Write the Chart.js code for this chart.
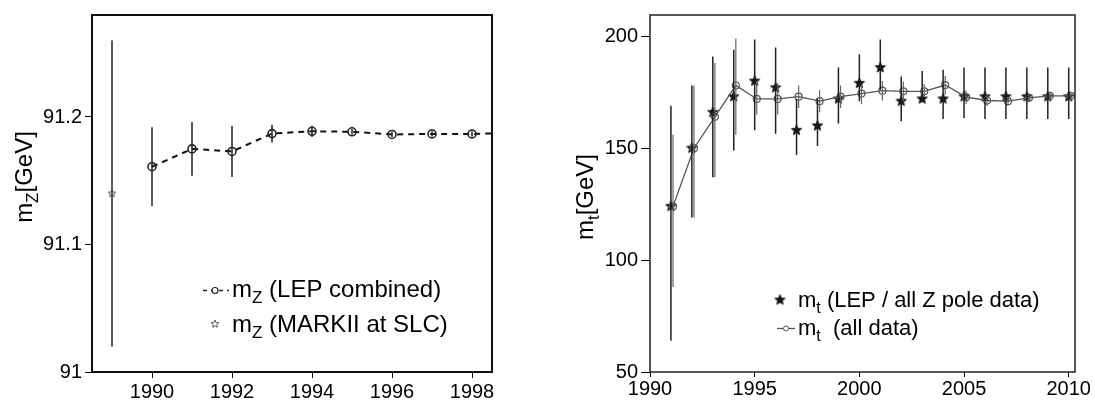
<!DOCTYPE html>
<html>
<head>
<meta charset="utf-8">
<script src="https://cdn.jsdelivr.net/npm/chart.js@4.4.1/dist/chart.umd.min.js"></script>
<style>
  html, body { margin: 0; padding: 0; background: #fff; }
  #wrap { position: relative; width: 1095px; height: 403px; background: #fff; overflow: hidden; }
  canvas { position: absolute; top: 0; background: #fff; }
  #c1 { left: 0; }
  #c2 { left: 545px; }
</style>
</head>
<body>
<div id="wrap">
  <canvas id="c1" width="545" height="403"></canvas>
  <canvas id="c2" width="550" height="403"></canvas>
</div>
<script>
// ---------------- Left panel data: Z mass ----------------
const lepYears = [1990, 1991, 1992, 1993, 1994, 1995, 1996, 1997, 1998, 1999];
const lepMass  = [91.161, 91.175, 91.173, 91.187, 91.1888, 91.1884, 91.1863, 91.1867, 91.1867, 91.1875];
const lepErr   = [0.031, 0.021, 0.020, 0.007, 0.0044, 0.0022, 0.0020, 0.0021, 0.0021, 0.0021];
const markYears = [1989];
const markMass  = [91.14];
const markErr   = [0.12];
const leftXTicks = [1990, 1992, 1994, 1996, 1998];
const leftYTicks = [91, 91.1, 91.2];
const leftYTickLabels = ['91', '91.1', '91.2'];

// ---------------- Right panel data: top mass ----------------
const topYears = [1991, 1992, 1993, 1994, 1995, 1996, 1997, 1998, 1999, 2000,
                  2001, 2002, 2003, 2004, 2005, 2006, 2007, 2008, 2009, 2010];
const zpoleMass = [124, 150, 166, 173, 180, 177, 158, 160, 172, 179,
                   186, 171, 172, 172, 173, 173, 173, 173, 173, 173];
const zpoleUp   = [45, 28, 25, 21, 18.5, 18, 14, 12, 14, 13,
                   12.5, 11, 12.5, 13, 13, 13, 13, 13, 13, 13];
const zpoleDown = [60, 31, 29, 24, 22, 20.5, 11, 9, 11, 8,
                   10, 9, 1.5, 9, 9.5, 10, 10, 10, 10, 10];
const allMass = [124, 150, 164, 178, 172, 172, 173, 171, 173, 174.4,
                 175.7, 175.4, 175.4, 178.2, 172.8, 171.3, 171.0, 172.5, 173.4, 173.4];
const allUp   = [32, 28, 24, 21, 8, 7, 5, 5, 5, 4,
                 4.3, 4.4, 3.3, 4, 3, 2.5, 2, 2, 1.5, 1.5];
const allDown = [36, 31, 27, 22, 7, 7, 5, 5, 5, 4.8,
                 4.4, 4.4, 2.2, 4.2, 3, 2.5, 2, 2, 1.5, 1.5];
const rightXTicks = [1990, 1995, 2000, 2005, 2010];
const rightYTicks = [50, 100, 150, 200];

// ---------------- helpers ----------------
const FONT = '"Liberation Sans", Arial, Helvetica, sans-serif';
Chart.defaults.font.family = FONT;
Chart.defaults.color = '#000';

function errorSegments(xs, vals, up, down) {
  const out = [];
  xs.forEach((x, i) => {
    out.push({ x: x, y: vals[i] + up[i] });
    out.push({ x: x, y: vals[i] - down[i] });
    out.push({ x: x, y: null });
  });
  return out;
}
function points(xs, vals, shift) {
  return xs.map((x, i) => ({ x: x + (shift || 0), y: vals[i] }));
}
function starPath(ctx, cx, cy, R, r) {
  ctx.beginPath();
  for (let k = 0; k < 10; k++) {
    const a = -Math.PI / 2 + k * Math.PI / 5;
    const rad = k % 2 === 0 ? R : r;
    const px = cx + rad * Math.cos(a), py = cy + rad * Math.sin(a);
    if (k === 0) ctx.moveTo(px, py); else ctx.lineTo(px, py);
  }
  ctx.closePath();
}
function makeStar(R, r, fill, stroke, lw) {
  const size = Math.ceil(2 * R + 2 * lw + 2);
  const c = document.createElement('canvas');
  c.width = size; c.height = size;
  const g = c.getContext('2d');
  starPath(g, size / 2, size / 2, R, r);
  if (fill) { g.fillStyle = fill; g.fill(); }
  if (stroke) { g.strokeStyle = stroke; g.lineWidth = lw; g.stroke(); }
  return c;
}
const smallGrayStar = makeStar(4, 1.8, null, '#555', 1);
const blackStar = makeStar(5.5, 2.4, '#111', '#111', 0.8);

function richWidth(ctx, parts, size) {
  let w = 0;
  parts.forEach(p => {
    ctx.font = (p.sub ? Math.round(size * 0.72) : size) + 'px ' + FONT;
    w += ctx.measureText(p.t).width;
  });
  return w;
}
function drawRich(ctx, parts, x, y, size) {
  let cx = x;
  parts.forEach(p => {
    const s = p.sub ? Math.round(size * 0.72) : size;
    ctx.font = s + 'px ' + FONT;
    ctx.fillText(p.t, cx, p.sub ? y + size * 0.27 : y);
    cx += ctx.measureText(p.t).width;
  });
}

function decorPlugin(cfg) {
  return {
    id: 'decor' + cfg.key,
    afterDraw(chart) {
      const ctx = chart.ctx;
      const a = chart.chartArea;
      ctx.save();
      // plot box
      ctx.strokeStyle = cfg.boxColor;
      ctx.lineWidth = cfg.boxWidth;
      ctx.strokeRect(a.left, a.top, a.right - a.left, a.bottom - a.top);
      // rotated y title
      ctx.fillStyle = '#000';
      ctx.textBaseline = 'alphabetic';
      ctx.textAlign = 'left';
      const w = richWidth(ctx, cfg.title, cfg.titleSize);
      ctx.save();
      ctx.translate(cfg.titleX, cfg.titleY);
      ctx.rotate(-Math.PI / 2);
      drawRich(ctx, cfg.title, -w / 2, 0, cfg.titleSize);
      ctx.restore();
      // legend
      cfg.legend(ctx);
      ctx.restore();
    }
  };
}

// ---------------- Left chart ----------------
new Chart(document.getElementById('c1'), {
  type: 'line',
  data: {
    datasets: [
      { data: errorSegments(markYears, markMass, markErr, markErr), borderColor: '#444', borderWidth: 1,
        pointRadius: 0, spanGaps: false, fill: false },
      { data: errorSegments(lepYears, lepMass, lepErr, lepErr), borderColor: '#222', borderWidth: 1.5,
        pointRadius: 0, spanGaps: false, fill: false },
      { data: points(lepYears, lepMass), borderColor: '#111', borderWidth: 2, borderDash: [6, 5],
        pointStyle: 'circle', pointRadius: 4, pointBorderWidth: 1.6, pointBorderColor: '#222',
        pointBackgroundColor: 'rgba(0,0,0,0)', fill: false, tension: 0 },
      { data: points(markYears, markMass), showLine: false, pointStyle: smallGrayStar, pointRadius: 4 }
    ]
  },
  options: {
    responsive: false, animation: false, events: [],
    layout: { padding: { top: 8, right: 53, left: 0, bottom: 0 } },
    plugins: { legend: { display: false }, tooltip: { enabled: false } },
    scales: {
      x: {
        type: 'linear', min: 1988.5, max: 1998.5,
        afterBuildTicks: s => { s.ticks = leftXTicks.map(v => ({ value: v })); },
        afterFit: s => { s.height = 31; },
        ticks: { font: { size: 20 }, color: '#000', padding: 2, maxRotation: 0, autoSkip: false,
                 callback: v => String(v) },
        grid: { drawOnChartArea: false, tickLength: 6, color: '#000', lineWidth: 1 },
        border: { display: false }
      },
      y: {
        type: 'linear', min: 91, max: 91.28,
        afterBuildTicks: s => { s.ticks = leftYTicks.map(v => ({ value: v })); },
        afterFit: s => { s.width = 92; },
        ticks: { font: { size: 20 }, color: '#000', padding: 3, autoSkip: false,
                 callback: (v, i) => leftYTickLabels[i] },
        grid: { drawOnChartArea: false, tickLength: 7, color: '#000', lineWidth: 1 },
        border: { display: false }
      }
    }
  },
  plugins: [decorPlugin({
    key: 'L', boxColor: '#111', boxWidth: 2,
    title: [{ t: 'm' }, { t: 'Z', sub: true }, { t: '[GeV]' }], titleSize: 24, titleX: 32, titleY: 177,
    legend: ctx => {
      // row 1: dashed line with open circle
      ctx.strokeStyle = '#222'; ctx.lineWidth = 1.5; ctx.setLineDash([4, 4]);
      ctx.beginPath(); ctx.moveTo(203, 290.5); ctx.lineTo(229, 290.5); ctx.stroke();
      ctx.setLineDash([]);
      ctx.lineWidth = 1.2; ctx.fillStyle = '#fff';
      ctx.beginPath(); ctx.arc(215, 290.5, 3, 0, Math.PI * 2); ctx.fill(); ctx.stroke();
      ctx.fillStyle = '#000';
      drawRich(ctx, [{ t: 'm' }, { t: 'Z', sub: true }, { t: ' (LEP combined)' }], 232, 297, 24);
      // row 2: star
      ctx.drawImage(smallGrayStar, 215 - smallGrayStar.width / 2, 324 - smallGrayStar.height / 2);
      drawRich(ctx, [{ t: 'm' }, { t: 'Z', sub: true }, { t: ' (MARKII at SLC)' }], 232, 332, 24);
    }
  })]
});

// ---------------- Right chart ----------------
new Chart(document.getElementById('c2'), {
  type: 'line',
  data: {
    datasets: [
      { data: errorSegments(topYears.map(y => y + 0.1), allMass, allUp, allDown), borderColor: '#666', borderWidth: 1.2,
        pointRadius: 0, spanGaps: false, fill: false },
      { data: errorSegments(topYears, zpoleMass, zpoleUp, zpoleDown), borderColor: '#222', borderWidth: 1.5,
        pointRadius: 0, spanGaps: false, fill: false },
      { data: points(topYears, allMass, 0.1), borderColor: '#555', borderWidth: 1.3,
        pointStyle: 'circle', pointRadius: 3.5, pointBorderWidth: 1.2, pointBorderColor: '#555',
        pointBackgroundColor: 'rgba(0,0,0,0)', fill: false, tension: 0 },
      { data: points(topYears, zpoleMass), showLine: false, pointStyle: blackStar, pointRadius: 5 }
    ]
  },
  options: {
    responsive: false, animation: false, events: [],
    layout: { padding: { top: 9, right: 20, left: 0, bottom: 0 } },
    plugins: { legend: { display: false }, tooltip: { enabled: false } },
    scales: {
      x: {
        type: 'linear', min: 1990, max: 2010.3,
        afterBuildTicks: s => { s.ticks = rightXTicks.map(v => ({ value: v })); },
        afterFit: s => { s.height = 31; },
        ticks: { font: { size: 20 }, color: '#000', padding: 0, maxRotation: 0, autoSkip: false,
                 callback: v => String(v) },
        grid: { drawOnChartArea: false, tickLength: 5, color: '#000', lineWidth: 1 },
        border: { display: false }
      },
      y: {
        type: 'linear', min: 50, max: 209.5,
        afterBuildTicks: s => { s.ticks = rightYTicks.map(v => ({ value: v })); },
        afterFit: s => { s.width = 105; },
        ticks: { font: { size: 20 }, color: '#000', padding: 3, autoSkip: false,
                 callback: v => String(v) },
        grid: { drawOnChartArea: false, tickLength: 9, color: '#000', lineWidth: 1 },
        border: { display: false }
      }
    }
  },
  plugins: [decorPlugin({
    key: 'R', boxColor: '#222', boxWidth: 1.5,
    title: [{ t: 'm' }, { t: 't', sub: true }, { t: '[GeV]' }], titleSize: 24, titleX: 48, titleY: 197,
    legend: ctx => {
      // row 1: filled star
      ctx.drawImage(blackStar, 235 - blackStar.width / 2, 300 - blackStar.height / 2);
      ctx.fillStyle = '#000';
      drawRich(ctx, [{ t: 'm' }, { t: 't', sub: true }, { t: ' (LEP / all Z pole data)' }], 253, 307, 22);
      // row 2: line with small circle
      ctx.strokeStyle = '#555'; ctx.lineWidth = 1.3;
      ctx.beginPath(); ctx.moveTo(232, 328.5); ctx.lineTo(250, 328.5); ctx.stroke();
      ctx.fillStyle = '#fff'; ctx.lineWidth = 1;
      ctx.beginPath(); ctx.arc(241, 328.5, 2.5, 0, Math.PI * 2); ctx.fill(); ctx.stroke();
      ctx.fillStyle = '#000';
      drawRich(ctx, [{ t: 'm' }, { t: 't', sub: true }, { t: '  (all data)' }], 253, 335, 22);
    }
  })]
});
</script>
</body>
</html>
